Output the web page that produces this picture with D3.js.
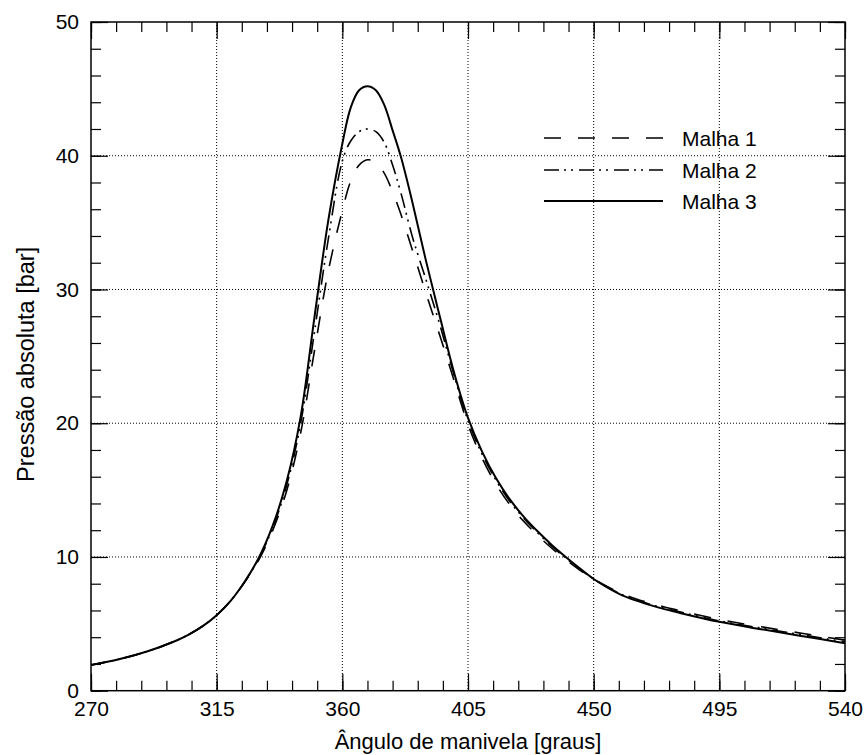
<!DOCTYPE html>
<html lang="pt">
<head>
<meta charset="UTF-8">
<title>Pressão absoluta</title>
<script src="https://d3js.org/d3.v7.min.js"></script>
<style>
    body { margin: 0; background: #fff; }
    svg text { font-family: "Liberation Sans", Arial, sans-serif; fill: #000; }
</style>
</head>
<body>
<svg id="chart" width="866" height="755"></svg>
<script>
// data
const angles = [270, 280, 290, 300, 305, 310, 315, 320, 325, 330, 335, 340, 345, 350, 355, 360, 363, 366, 369, 372, 375, 378, 381,
    385, 390, 395, 400, 405, 410, 415, 420, 425, 430, 435, 440, 445, 450, 455, 460, 465, 470, 475, 480, 495, 510, 525, 540];

const malha1 = [1.92, 2.35, 2.93, 3.7, 4.2, 4.83, 5.65, 6.72, 8.1, 9.75, 11.95, 14.9, 19.2, 25.4, 31.4, 35.9, 38.1, 39.3, 39.7, 39.5, 38.7, 37.3, 35.6,
    33.0, 29.7, 26.5, 23.2, 19.9, 17.4, 15.45, 13.9, 12.65, 11.6, 10.65, 9.8, 9.02, 8.35, 7.77, 7.27, 6.88, 6.56, 6.28, 6.03, 5.33, 4.78, 4.28, 3.78];

const malha2 = [1.92, 2.35, 2.93, 3.7, 4.2, 4.83, 5.65, 6.72, 8.12, 9.85, 12.15, 15.3, 19.9, 26.8, 33.8, 39.6, 41.1, 41.8, 42.0, 41.8, 41.0, 39.3, 37.2,
    34.0, 30.7, 27.3, 23.6, 20.2, 17.7, 15.75, 14.15, 12.88, 11.8, 10.8, 9.92, 9.1, 8.35, 7.73, 7.2, 6.8, 6.47, 6.18, 5.93, 5.22, 4.68, 4.17, 3.65];

const malha3 = [1.92, 2.35, 2.93, 3.7, 4.2, 4.83, 5.65, 6.72, 8.15, 9.9, 12.3, 15.6, 20.4, 27.9, 35.2, 40.9, 43.6, 44.9, 45.2, 44.9, 43.8, 41.9, 39.9,
    36.6, 32.1, 27.9, 23.8, 20.4, 17.9, 15.9, 14.3, 13.0, 11.9, 10.9, 10.0, 9.15, 8.35, 7.7, 7.15, 6.75, 6.42, 6.12, 5.86, 5.15, 4.6, 4.07, 3.55];

const seriesNames = ["Malha 1", "Malha 2", "Malha 3"];
const xTicks = [270, 315, 360, 405, 450, 495, 540];
const yTicks = [0, 10, 20, 30, 40, 50];

// layout
const pLeft = 91, pTop = 22, pRight = 845, pBottom = 690.7;
const svg = d3.select("#chart");

const x = d3.scaleLinear().domain([270, 540]).range([pLeft, pRight]);
const y = d3.scaleLinear().domain([0, 50]).range([pBottom, pTop]);

// dotted grid
const grid = svg.append("g");
grid.selectAll(".gx")
    .data(xTicks.slice(1, -1))
    .join("line")
    .attr("x1", d => x(d)).attr("x2", d => x(d))
    .attr("y1", pTop).attr("y2", pBottom)
    .attr("stroke", "#000").attr("stroke-width", 1)
    .attr("stroke-dasharray", "1,2");
grid.selectAll(".gy")
    .data(yTicks.slice(1, -1))
    .join("line")
    .attr("x1", pLeft).attr("x2", pRight)
    .attr("y1", d => y(d)).attr("y2", d => y(d))
    .attr("stroke", "#000").attr("stroke-width", 1)
    .attr("stroke-dasharray", "1,2");

// minor ticks every 9 deg / 2 bar, major every 45 deg / 10 bar, all pointing in
const xMinor = d3.range(270, 541, 9);
const yMinor = d3.range(0, 51, 2);

function tickStyle(g) {
    g.select(".domain").remove();
    g.selectAll(".tick line").attr("stroke", "#000").attr("stroke-width", 1.2);
}

svg.append("g").attr("transform", `translate(0,${pBottom})`)
    .call(d3.axisBottom(x).tickValues(xMinor).tickSize(-10).tickFormat(""))
    .call(tickStyle);
svg.append("g").attr("transform", `translate(0,${pTop})`)
    .call(d3.axisTop(x).tickValues(xMinor).tickSize(-10).tickFormat(""))
    .call(tickStyle);
svg.append("g").attr("transform", `translate(${pLeft},0)`)
    .call(d3.axisLeft(y).tickValues(yMinor).tickSize(-10).tickFormat(""))
    .call(tickStyle);
svg.append("g").attr("transform", `translate(${pRight},0)`)
    .call(d3.axisRight(y).tickValues(yMinor).tickSize(-10).tickFormat(""))
    .call(tickStyle);

// major ticks with labels
const xAxis = svg.append("g").attr("transform", `translate(0,${pBottom})`)
    .call(d3.axisBottom(x).tickValues(xTicks).tickSize(-17).tickPadding(10).tickFormat(d3.format("d")))
    .call(tickStyle);
xAxis.selectAll("text").attr("font-size", 21).attr("font-family", "Liberation Sans, Arial, sans-serif");

svg.append("g").attr("transform", `translate(0,${pTop})`)
    .call(d3.axisTop(x).tickValues(xTicks).tickSize(-17).tickFormat(""))
    .call(tickStyle);

const yAxis = svg.append("g").attr("transform", `translate(${pLeft},0)`)
    .call(d3.axisLeft(y).tickValues(yTicks).tickSize(-17).tickPadding(12).tickFormat(d3.format("d")))
    .call(tickStyle);
yAxis.selectAll("text").attr("font-size", 21).attr("font-family", "Liberation Sans, Arial, sans-serif");

svg.append("g").attr("transform", `translate(${pRight},0)`)
    .call(d3.axisRight(y).tickValues(yTicks).tickSize(-17).tickFormat(""))
    .call(tickStyle);

// curves
svg.append("clipPath").attr("id", "plotClip")
    .append("rect")
    .attr("x", pLeft).attr("y", pTop)
    .attr("width", pRight - pLeft).attr("height", pBottom - pTop);

const line = d3.line()
    .x(d => x(d[0]))
    .y(d => y(d[1]))
    .curve(d3.curveCatmullRom.alpha(0.5));

const styles = [
    { dash: "17,17", width: 1.6 },
    { dash: "15,5,2,5,2,6", width: 1.6 },
    { dash: null, width: 2 }
];
const allSeries = [malha1, malha2, malha3];

const curves = svg.append("g").attr("clip-path", "url(#plotClip)");
allSeries.forEach((vals, i) => {
    curves.append("path")
        .datum(angles.map((a, j) => [a, vals[j]]))
        .attr("d", line)
        .attr("fill", "none")
        .attr("stroke", "#000")
        .attr("stroke-width", styles[i].width)
        .attr("stroke-dasharray", styles[i].dash);
});

// frame
svg.append("rect")
    .attr("x", pLeft).attr("y", pTop)
    .attr("width", pRight - pLeft).attr("height", pBottom - pTop)
    .attr("fill", "none")
    .attr("stroke", "#000")
    .attr("stroke-width", 1.5);

// legend
const legendY = [138, 170, 201];
const legend = svg.append("g");
seriesNames.forEach((name, i) => {
    legend.append("line")
        .attr("x1", 544).attr("x2", 663)
        .attr("y1", legendY[i]).attr("y2", legendY[i])
        .attr("stroke", "#000")
        .attr("stroke-width", styles[i].width)
        .attr("stroke-dasharray", styles[i].dash);
    legend.append("text")
        .attr("x", 682)
        .attr("y", legendY[i])
        .attr("dy", "0.36em")
        .attr("font-size", 21)
        .text(name);
});

// axis titles
svg.append("text")
    .attr("x", (pLeft + pRight) / 2)
    .attr("y", 749)
    .attr("text-anchor", "middle")
    .attr("font-size", 22)
    .text("Ângulo de manivela [graus]");

svg.append("text")
    .attr("transform", `translate(34,${(pTop + pBottom) / 2 + 8}) rotate(-90)`)
    .attr("text-anchor", "middle")
    .attr("font-size", 23.5)
    .text("Pressão absoluta [bar]");
</script>
</body>
</html>
